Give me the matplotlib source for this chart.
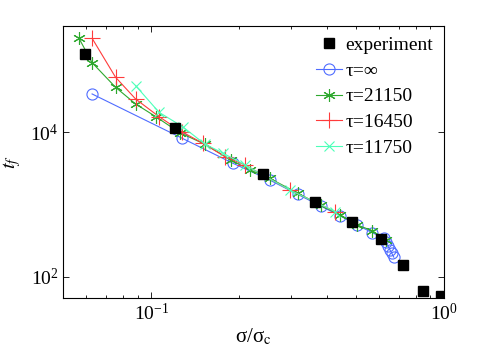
import matplotlib
matplotlib.use("Agg")
import matplotlib.pyplot as plt
import numpy as np

plt.rcParams['font.family'] = ['Liberation Serif', 'DejaVu Serif']
plt.rcParams['mathtext.fontset'] = 'stix'

# experiment
exp_x = [0.0595, 0.120, 0.2416, 0.364, 0.486, 0.608, 0.727, 0.849, 0.976]
exp_y = [121000, 11350, 2620, 1094, 566, 333, 145, 63.4, 54]

# tau = infinity
inf_x = [0.0627, 0.1268, 0.190, 0.2535, 0.316, 0.379, 0.443, 0.506, 0.569,
         0.622, 0.632, 0.643, 0.653, 0.663, 0.674]
inf_y = [33900, 8340, 3720, 2185, 1385, 953, 693, 520, 407,
         344, 303, 270, 238, 213, 187]

# tau = 21150
t1_x = [0.0564, 0.0627, 0.0754, 0.0883, 0.1035, 0.125, 0.1524, 0.187, 0.2176,
        0.2535, 0.316, 0.379, 0.443, 0.506, 0.569, 0.632]
t1_y = [204000, 92000, 42000, 24660, 16450, 9870, 6820, 4135, 3005,
        2306, 1442, 970, 716, 520, 434, 322]

# tau = 16450
t2_x = [0.0627, 0.0754, 0.0883, 0.1062, 0.1268, 0.150, 0.1785, 0.209, 0.297, 0.4256]
t2_y = [200000, 57800, 28900, 16450, 10200, 7040, 4590, 3525, 1589, 795]

# tau = 11750
t3_x = [0.0883, 0.1062, 0.1278, 0.152, 0.176, 0.209, 0.297, 0.4256]
t3_y = [44200, 18900, 11960, 6900, 5120, 3525, 1589, 795]

fig = plt.figure(figsize=(4.91, 3.5), dpi=100)
ax = fig.add_axes([0.129, 0.149, 0.775, 0.778])

ax.plot(exp_x, exp_y, 's', color='k', ms=7.5, label='experiment', zorder=5)
ax.plot(inf_x, inf_y, '-o', color='#4f6cff', mfc='none', ms=8, lw=0.8, mew=0.8, label=r'τ=∞')
ax.plot(t1_x, t1_y, '-', marker=(6, 2, 0), color='#2ea82e', ms=9, lw=0.8, mew=0.8, label='τ=21150')
ax.plot(t2_x, t2_y, '-+', color='#ff3b3b', ms=11, lw=0.8, mew=0.8, label='τ=16450')
ax.plot(t3_x, t3_y, '-x', color='#4dffb8', ms=7, lw=0.8, mew=0.8, label='τ=11750')

ax.set_xscale('log')
ax.set_yscale('log')
ax.set_xlim(0.05, 1)
ax.set_ylim(51, 3e5)
ax.set_yticks([1e2, 1e4])
ax.yaxis.set_minor_locator(matplotlib.ticker.NullLocator())
ax.tick_params(which='both', direction='in', top=True, right=True, labelsize=14)
ax.tick_params(which='major', length=4, width=0.6)
ax.tick_params(which='minor', length=2, width=0.6)
for s in ax.spines.values():
    s.set_linewidth(0.8)

ax.set_xlabel(r'σ/σ$_\mathrm{c}$', fontsize=15, labelpad=2)
ax.set_ylabel(r'$t_f$', fontsize=15, labelpad=5)

ax.legend(loc='upper right', frameon=False, fontsize=14, handlelength=1.3,
          handletextpad=0.2, labelspacing=0.42, borderaxespad=0.15)

fig.savefig('out.png', dpi=100)
